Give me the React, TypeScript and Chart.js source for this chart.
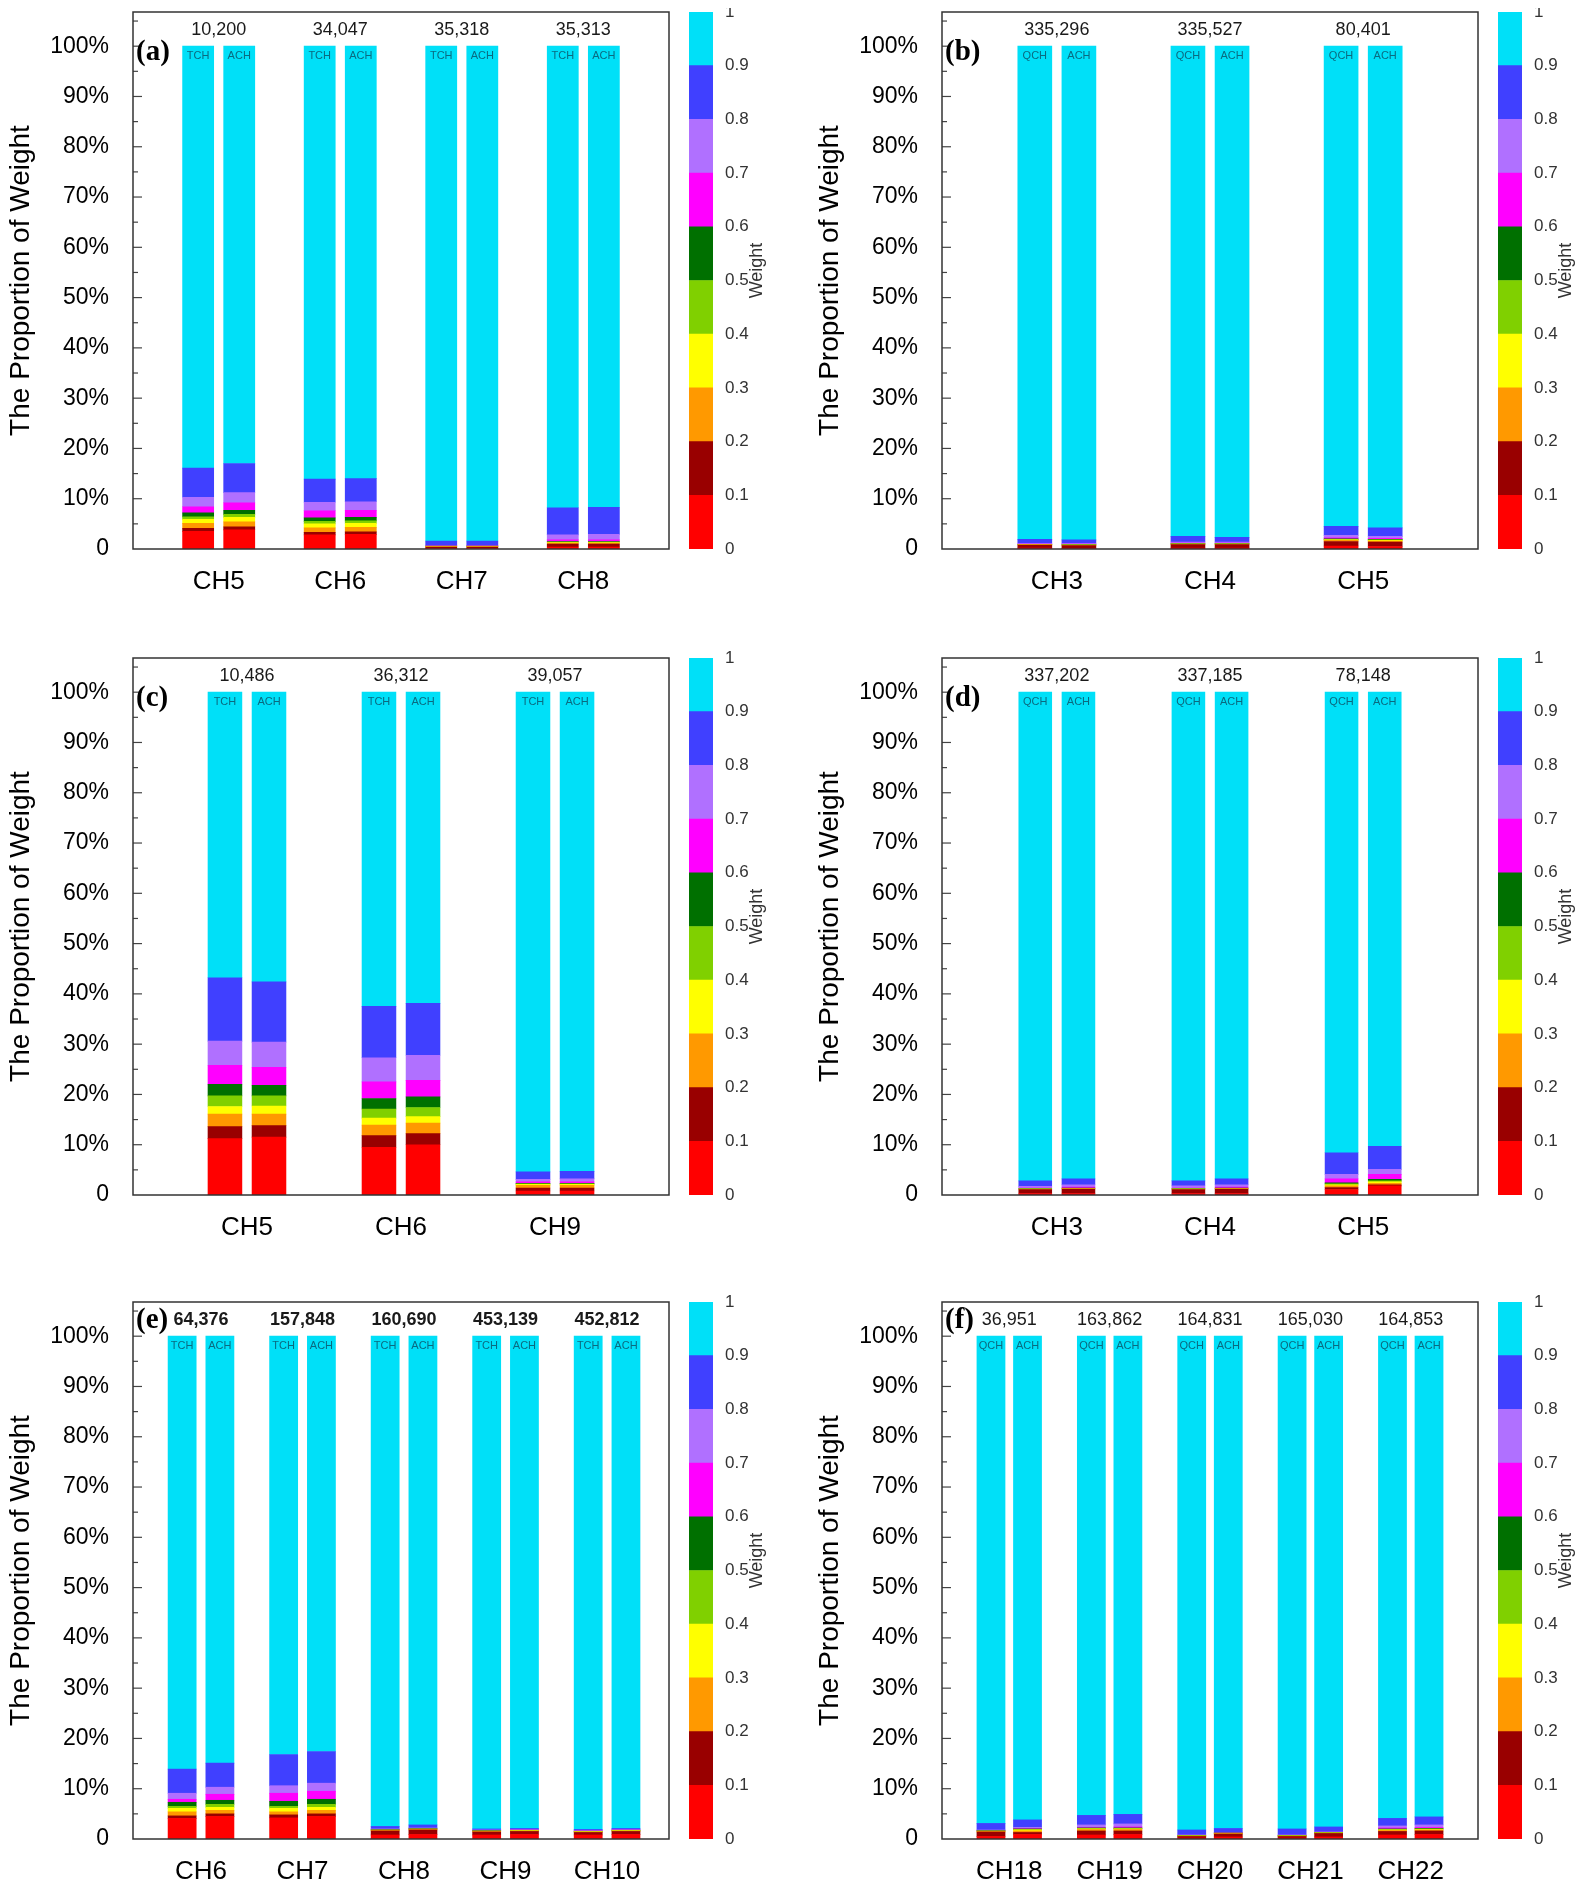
import { useEffect, useRef } from 'react';
import { Chart, registerables } from 'chart.js';

Chart.register(...registerables);

// weight classes 0-0.1 ... 0.9-1, bottom to top
const weightColors = ['#ff0000', '#990000', '#ff9900', '#ffff00', '#80d000', '#007000', '#ff00ff', '#b070ff', '#4040ff', '#00e0f8'];
const weightTicks = ['0', '0.1', '0.2', '0.3', '0.4', '0.5', '0.6', '0.7', '0.8', '0.9', '1'];

// cumulative tops (%) of the first nine classes, the rest is the 0.9-1 class
const catsA = ['CH5', 'CH6', 'CH7', 'CH8'];
const totalsA = ['10,200', '34,047', '35,318', '35,313'];
const tagsA = ['TCH', 'ACH'];
const topsA1 = [
  [3.5, 4.1, 5.1, 5.9, 6.4, 7.2, 8.4, 10.3, 16.1],
  [2.8, 3.3, 4.2, 5.0, 5.5, 6.2, 7.6, 9.3, 13.9],
  [0.1, 0.4, 0.45, 0.5, 0.55, 0.6, 0.65, 0.7, 1.6],
  [0.4, 1.0, 1.2, 1.3, 1.4, 1.5, 1.8, 2.8, 8.2],
];
const topsA2 = [
  [3.8, 4.4, 5.4, 6.3, 6.9, 7.7, 9.2, 11.2, 17.0],
  [2.9, 3.4, 4.3, 5.1, 5.6, 6.3, 7.7, 9.4, 14.0],
  [0.1, 0.4, 0.45, 0.5, 0.55, 0.6, 0.65, 0.7, 1.6],
  [0.4, 1.0, 1.2, 1.3, 1.4, 1.5, 1.8, 2.9, 8.3],
];

const catsB = ['CH3', 'CH4', 'CH5'];
const totalsB = ['335,296', '335,527', '80,401'];
const tagsB = ['QCH', 'ACH'];
const topsB1 = [
  [0.2, 0.8, 0.85, 0.9, 0.92, 0.95, 1.0, 1.1, 1.9],
  [0.2, 0.9, 0.95, 1.0, 1.05, 1.1, 1.2, 1.4, 2.5],
  [0.6, 1.5, 1.7, 1.8, 1.9, 2.0, 2.2, 2.7, 4.5],
];
const topsB2 = [
  [0.1, 0.7, 0.75, 0.8, 0.85, 0.9, 1.0, 1.1, 1.8],
  [0.2, 0.9, 0.95, 1.0, 1.05, 1.1, 1.2, 1.4, 2.3],
  [0.5, 1.4, 1.6, 1.7, 1.8, 1.9, 2.1, 2.5, 4.2],
];

const catsC = ['CH5', 'CH6', 'CH9'];
const totalsC = ['10,486', '36,312', '39,057'];
const tagsC = ['TCH', 'ACH'];
const topsC1 = [
  [11.2, 13.6, 16.1, 17.6, 19.7, 22.0, 25.8, 30.6, 43.2],
  [9.5, 11.8, 13.9, 15.3, 17.1, 19.2, 22.5, 27.3, 37.5],
  [0.8, 1.4, 1.9, 2.1, 2.2, 2.3, 2.6, 3.1, 4.6],
];
const topsC2 = [
  [11.5, 13.8, 16.1, 17.7, 19.7, 21.8, 25.4, 30.4, 42.4],
  [10.0, 12.2, 14.3, 15.6, 17.4, 19.5, 22.8, 27.8, 38.1],
  [0.8, 1.4, 1.9, 2.1, 2.2, 2.3, 2.6, 3.2, 4.7],
];

const catsD = ['CH3', 'CH4', 'CH5'];
const totalsD = ['337,202', '337,185', '78,148'];
const tagsD = ['QCH', 'ACH'];
const topsD1 = [
  [0.3, 1.1, 1.15, 1.2, 1.25, 1.3, 1.4, 1.7, 2.8],
  [0.3, 1.1, 1.15, 1.2, 1.25, 1.3, 1.4, 1.8, 2.8],
  [1.1, 1.5, 1.8, 2.0, 2.2, 2.4, 3.2, 4.1, 8.4],
];
const topsD2 = [
  [0.3, 1.2, 1.25, 1.3, 1.35, 1.4, 1.6, 2.0, 3.2],
  [0.3, 1.2, 1.25, 1.3, 1.35, 1.4, 1.6, 2.0, 3.2],
  [1.8, 2.0, 2.3, 2.6, 2.8, 3.1, 4.1, 5.1, 9.7],
];

const catsE = ['CH6', 'CH7', 'CH8', 'CH9', 'CH10'];
const totalsE = ['64,376', '157,848', '160,690', '453,139', '452,812'];
const tagsE = ['TCH', 'ACH'];
const topsE1 = [
  [4.1, 4.6, 5.4, 6.1, 6.5, 7.3, 7.9, 9.1, 13.9],
  [4.2, 4.8, 5.4, 6.1, 6.5, 7.5, 9.1, 10.6, 16.8],
  [0.8, 1.6, 1.7, 1.75, 1.8, 1.85, 1.9, 2.0, 2.5],
  [0.8, 1.4, 1.5, 1.55, 1.6, 1.65, 1.7, 1.8, 2.0],
  [0.8, 1.3, 1.4, 1.45, 1.5, 1.55, 1.6, 1.7, 1.9],
];
const topsE2 = [
  [4.5, 5.0, 5.7, 6.3, 6.9, 7.7, 8.9, 10.3, 15.1],
  [4.5, 5.0, 5.7, 6.3, 6.9, 7.9, 9.5, 11.1, 17.4],
  [0.9, 1.8, 1.9, 1.95, 2.0, 2.05, 2.1, 2.2, 2.8],
  [0.9, 1.5, 1.6, 1.65, 1.7, 1.75, 1.8, 1.9, 2.1],
  [0.9, 1.5, 1.6, 1.65, 1.7, 1.75, 1.8, 1.9, 2.1],
];

const catsF = ['CH18', 'CH19', 'CH20', 'CH21', 'CH22'];
const totalsF = ['36,951', '163,862', '164,831', '165,030', '164,853'];
const tagsF = ['QCH', 'ACH'];
const topsF1 = [
  [0.5, 1.4, 1.5, 1.55, 1.6, 1.65, 1.7, 1.8, 3.1],
  [0.8, 1.6, 1.9, 2.0, 2.1, 2.2, 2.3, 2.8, 4.7],
  [0.2, 0.5, 0.55, 0.6, 0.65, 0.7, 0.75, 0.8, 1.8],
  [0.2, 0.5, 0.55, 0.6, 0.65, 0.7, 0.75, 0.8, 2.0],
  [0.8, 1.5, 1.7, 1.8, 1.9, 2.0, 2.2, 2.6, 4.1],
];
const topsF2 = [
  [0.9, 1.3, 1.6, 1.8, 1.9, 2.0, 2.1, 2.3, 3.8],
  [0.9, 1.6, 1.9, 2.0, 2.1, 2.2, 2.4, 3.0, 4.9],
  [0.4, 1.0, 1.05, 1.1, 1.15, 1.2, 1.25, 1.3, 2.1],
  [0.4, 1.1, 1.15, 1.2, 1.25, 1.3, 1.35, 1.4, 2.4],
  [0.9, 1.6, 1.8, 1.9, 2.0, 2.1, 2.3, 2.8, 4.4],
];

type PanelProps = {
  letter: string;
  cats: string[];
  totals: string[];
  tags: string[];
  tops: number[][][];
  xMin: number;
  xMax: number;
  barW: number; // bar width, share of group spacing
  shift: number; // bar centre offset from group centre, share of spacing
  bold?: boolean;
  letterDy: number;
  left: number;
  top: number;
};

const SANS = '"Liberation Sans", Arial, sans-serif';
const Y_AXIS_W = 133;
const BOX_RIGHT = 669;
const BOX_H = 537;
const PAD_TOP = 12;
const X_AXIS_H = 50;
const CBAR_LEFT = 689;
const CBAR_W = 130;

function Panel(p: PanelProps) {
  const ref = useRef<HTMLCanvasElement>(null);
  const barRef = useRef<HTMLCanvasElement>(null);

  useEffect(() => {
    if (!ref.current || !barRef.current) return;

    // each bar of a pair sits at its own x, so every x holds one stack
    const spacing = (BOX_RIGHT - Y_AXIS_W) / (p.xMax - p.xMin);

    const datasets: any[] = [];
    p.tops.forEach((tops, s) => {
      for (let k = 0; k < 10; k++) {
        datasets.push({
          label: `${p.tags[s]} ${weightTicks[k]}`,
          stack: 'all',
          backgroundColor: weightColors[k],
          borderWidth: 0,
          barThickness: spacing * p.barW,
          data: p.cats.map((_, i) => {
            const t = tops[i];
            const lo = k === 0 ? 0 : t[k - 1];
            const hi = k === 9 ? 100 : t[k];
            return { x: i + (s === 0 ? -p.shift : p.shift), y: hi - lo };
          }),
        });
      }
    });

    const decor = {
      id: 'decor',
      afterDatasetsDraw(chart: any) {
        const { ctx, chartArea, scales } = chart;
        ctx.save();
        // inward ticks, every 5 %
        ctx.strokeStyle = '#444';
        ctx.lineWidth = 1.2;
        for (let v = 5; v < 106; v += 5) {
          const y = scales.y.getPixelForValue(v);
          ctx.beginPath();
          ctx.moveTo(chartArea.left, y);
          ctx.lineTo(chartArea.left + (v % 10 === 0 ? 9 : 5), y);
          ctx.stroke();
        }
        ctx.strokeStyle = '#333';
        ctx.lineWidth = 1.5;
        ctx.strokeRect(chartArea.left, chartArea.top, chartArea.right - chartArea.left, chartArea.bottom - chartArea.top);
        const y100 = scales.y.getPixelForValue(100);
        // totals above each group
        ctx.fillStyle = '#1a1a1a';
        ctx.font = `${p.bold ? 'bold ' : ''}18px ${SANS}`;
        ctx.textAlign = 'center';
        ctx.textBaseline = 'middle';
        p.totals.forEach((t, i) => {
          ctx.fillText(t, scales.x.getPixelForValue(i), (chartArea.top + y100) / 2 + 1);
        });
        // bar tags
        ctx.font = `11px ${SANS}`;
        ctx.fillStyle = '#0a6a80';
        for (let s = 0; s < 2; s++) {
          const meta = chart.getDatasetMeta(s * 10 + 9);
          meta.data.forEach((el: any) => ctx.fillText(p.tags[s], el.x, y100 + 10));
        }
        // panel letter
        ctx.font = `bold 29px "Liberation Serif", "Times New Roman", serif`;
        ctx.fillStyle = '#000';
        ctx.textAlign = 'left';
        ctx.fillText(`(${p.letter})`, chartArea.left + 3, y100 + p.letterDy);
        ctx.restore();
      },
    };

    const chart = new Chart(ref.current, {
      type: 'bar',
      data: { datasets },
      plugins: [decor],
      options: {
        animation: false,
        responsive: false,
        layout: { padding: { top: PAD_TOP, right: 4, left: 0, bottom: 0 } },
        plugins: { legend: { display: false }, tooltip: { enabled: false } },
        scales: {
          x: {
            type: 'linear',
            min: p.xMin,
            max: p.xMax,
            stacked: true,
            offset: false,
            grid: { display: false },
            border: { display: false },
            afterBuildTicks: (s: any) => { s.ticks = p.cats.map((_, i) => ({ value: i })); },
            afterFit: (s: any) => { s.height = X_AXIS_H; s.paddingLeft = 0; s.paddingRight = 0; },
            ticks: {
              autoSkip: false,
              maxRotation: 0,
              padding: 9,
              color: '#000',
              font: { family: SANS, size: 26 },
              callback: (v: any) => p.cats[v] ?? '',
            },
          },
          y: {
            stacked: true,
            min: 0,
            max: 106.8,
            border: { display: false },
            grid: { display: false },
            afterFit: (s: any) => { s.width = Y_AXIS_W; s.paddingTop = 0; s.paddingBottom = 0; },
            ticks: {
              stepSize: 10,
              padding: 16,
              color: '#000',
              font: { family: SANS, size: 23 },
              callback: (v: any) => (v === 0 ? '0' : v % 10 === 0 && v <= 100 ? `${v}%` : ''),
            },
            title: {
              display: true,
              text: 'The Proportion of Weight',
              color: '#000',
              font: { family: SANS, size: 28 },
              padding: { top: 4, bottom: 0 },
            },
          },
        },
      },
    });

    const barDatasets = weightColors.map((c, k) => ({
      label: weightTicks[k],
      data: [0.1],
      backgroundColor: c,
      borderWidth: 0,
      barPercentage: 1,
      categoryPercentage: 1,
    }));
    const weightTitle = {
      id: 'weightTitle',
      afterDraw(c: any) {
        const { ctx, chartArea } = c;
        ctx.save();
        ctx.translate(chartArea.right + 44, (chartArea.top + chartArea.bottom) / 2 - 10);
        ctx.rotate(-Math.PI / 2);
        ctx.font = `18px ${SANS}`;
        ctx.fillStyle = '#333';
        ctx.textAlign = 'center';
        ctx.textBaseline = 'middle';
        ctx.fillText('Weight', 0, 0);
        ctx.restore();
      },
    };
    const bar = new Chart(barRef.current, {
      type: 'bar',
      data: { labels: [''], datasets: barDatasets },
      plugins: [weightTitle],
      options: {
        animation: false,
        responsive: false,
        layout: { padding: { top: PAD_TOP, bottom: X_AXIS_H, left: 0, right: 0 } },
        plugins: { legend: { display: false }, tooltip: { enabled: false } },
        scales: {
          x: { display: false, stacked: true },
          y: {
            position: 'right',
            stacked: true,
            min: 0,
            max: 1,
            grid: { display: false },
            border: { display: false },
            afterFit: (s: any) => { s.width = CBAR_W - 24; s.paddingTop = 0; s.paddingBottom = 0; },
            ticks: {
              stepSize: 0.1,
              padding: 4,
              color: '#333',
              font: { family: SANS, size: 17 },
              callback: (v: any, i: number) => weightTicks[i] ?? '',
            },
          },
        },
      },
    });

    return () => {
      chart.destroy();
      bar.destroy();
    };
  }, []);

  const h = PAD_TOP + BOX_H + X_AXIS_H;
  return (
    <>
      <canvas
        ref={ref}
        width={BOX_RIGHT + 4}
        height={h}
        style={{ position: 'absolute', left: p.left, top: p.top, width: BOX_RIGHT + 4, height: h }}
      />
      <canvas
        ref={barRef}
        width={CBAR_W}
        height={h}
        style={{ position: 'absolute', left: p.left + CBAR_LEFT, top: p.top, width: CBAR_W, height: h }}
      />
    </>
  );
}

export default function App() {
  const cols = [0, 809];
  const rows = [0, 646, 1290];
  return (
    <div style={{ position: 'relative', width: 1585, height: 1892, background: '#fff', margin: -8, overflow: 'hidden' }}>
      <Panel letter="a" cats={catsA} totals={totalsA} tags={tagsA} tops={[topsA1, topsA2]} xMin={-0.705} xMax={3.705} barW={0.256} shift={0.169} letterDy={6} left={cols[0]} top={rows[0]} />
      <Panel letter="b" cats={catsB} totals={totalsB} tags={tagsB} tops={[topsB1, topsB2]} xMin={-0.75} xMax={2.75} barW={0.222} shift={0.144} letterDy={6} left={cols[1]} top={rows[0]} />
      <Panel letter="c" cats={catsC} totals={totalsC} tags={tagsC} tops={[topsC1, topsC2]} xMin={-0.74} xMax={2.74} barW={0.22} shift={0.143} letterDy={6} left={cols[0]} top={rows[1]} />
      <Panel letter="d" cats={catsD} totals={totalsD} tags={tagsD} tops={[topsD1, topsD2]} xMin={-0.75} xMax={2.75} barW={0.215} shift={0.141} letterDy={6} left={cols[1]} top={rows[1]} />
      <Panel letter="e" cats={catsE} totals={totalsE} tags={tagsE} tops={[topsE1, topsE2]} xMin={-0.67} xMax={4.61} barW={0.277} shift={0.186} bold letterDy={-16} left={cols[0]} top={rows[2]} />
      <Panel letter="f" cats={catsF} totals={totalsF} tags={tagsF} tops={[topsF1, topsF2]} xMin={-0.67} xMax={4.67} barW={0.28} shift={0.182} letterDy={-16} left={cols[1]} top={rows[2]} />
    </div>
  );
}
